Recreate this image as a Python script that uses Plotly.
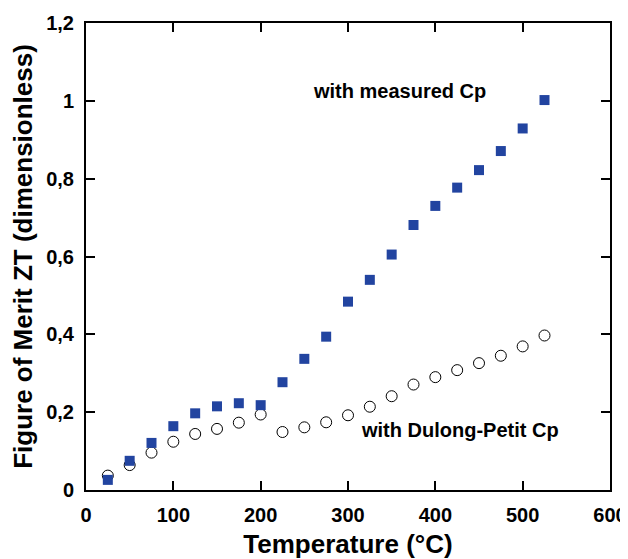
import plotly.graph_objects as go

temperature = [25, 50, 75, 100, 125, 150, 175, 200, 225, 250, 275, 300, 325, 350, 375, 400, 425, 450, 475, 500, 525]
zt_measured = [0.026, 0.075, 0.121, 0.164, 0.197, 0.215, 0.223, 0.218, 0.277, 0.337, 0.394, 0.484, 0.540, 0.605, 0.681, 0.730, 0.777, 0.822, 0.871, 0.929, 1.002]
zt_dulong = [0.037, 0.064, 0.096, 0.124, 0.144, 0.157, 0.173, 0.194, 0.149, 0.161, 0.174, 0.192, 0.214, 0.241, 0.271, 0.290, 0.308, 0.326, 0.345, 0.369, 0.397]

font_family = "Liberation Sans, Arial, sans-serif"

fig = go.Figure()
fig.add_trace(go.Scatter(
    x=temperature, y=zt_dulong, mode="markers", name="with Dulong-Petit Cp",
    marker=dict(symbol="circle-open", size=11, color="black", line=dict(width=1, color="black")),
))
fig.add_trace(go.Scatter(
    x=temperature, y=zt_measured, mode="markers", name="with measured Cp",
    marker=dict(symbol="square", size=10, color="#2244a0", line=dict(width=0)),
))

fig.add_annotation(x=359, y=1.025, xref="x", yref="y", text="<b>with measured Cp</b>",
                   showarrow=False, font=dict(family=font_family, size=20, color="black"))
fig.add_annotation(x=428, y=0.154, xref="x", yref="y", text="<b>with Dulong-Petit Cp</b>",
                   showarrow=False, font=dict(family=font_family, size=20, color="black"))

axis_common = dict(
    showline=True, linewidth=2, linecolor="black", mirror="ticks",
    ticks="inside", ticklen=9, tickwidth=2, tickcolor="black",
    showgrid=False, zeroline=False, automargin=False,
    tickfont=dict(family=font_family, size=20, color="black"),
)

# the page body has an 8px default margin, so the figure is made 8px smaller
fig.update_layout(
    width=620, height=551,
    margin=dict(l=78, r=18, t=15, b=69),
    paper_bgcolor="white", plot_bgcolor="white",
    showlegend=False,
    separators=",.",
    font=dict(family=font_family, color="black"),
    xaxis=dict(range=[0, 600], dtick=100, tick0=0, ticklabelstandoff=6,
               title=dict(text="<b>Temperature (°C)</b>", font=dict(family=font_family, size=26), standoff=11),
               **axis_common),
    yaxis=dict(range=[0, 1.2], dtick=0.2, tick0=0, ticklabelstandoff=6,
               title=dict(text="<b>Figure of Merit ZT (dimensionless)</b>", font=dict(family=font_family, size=26), standoff=9),
               **axis_common),
)
fig.update_xaxes(tickprefix="<b>", ticksuffix="</b>")
fig.update_yaxes(tickprefix="<b>", ticksuffix="</b>")

fig.write_html("out.html")
